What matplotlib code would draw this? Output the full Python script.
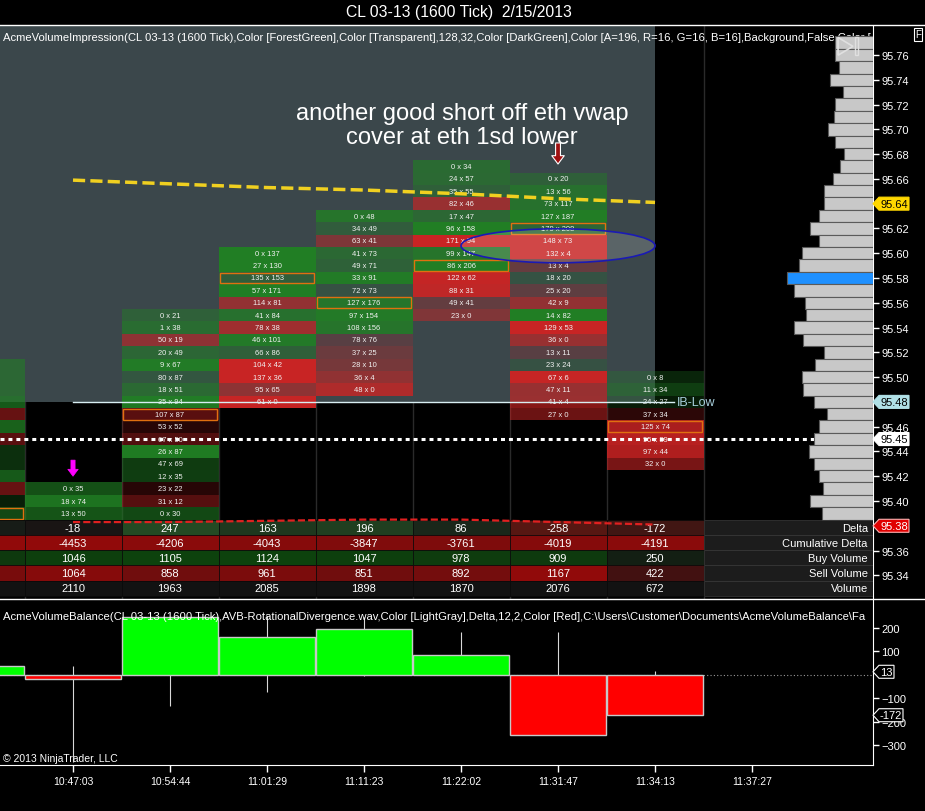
import matplotlib
matplotlib.use("Agg")
import matplotlib.pyplot as plt
import numpy as np
from matplotlib import transforms
from matplotlib.lines import Line2D
from matplotlib.patches import Ellipse, Polygon, Rectangle

plt.rcParams['font.family'] = ['Liberation Sans', 'DejaVu Sans']

TITLE = "CL 03-13 (1600 Tick)  2/15/2013"
MAIN_LABEL = ("AcmeVolumeImpression(CL 03-13 (1600 Tick),Color [ForestGreen],Color [Transparent],128,32,"
              "Color [DarkGreen],Color [A=196, R=16, G=16, B=16],Background,False,Color [")
LOWER_LABEL = ("AcmeVolumeBalance(CL 03-13 (1600 Tick),AVB-RotationalDivergence.wav,Color [LightGray],"
               "Delta,12,2,Color [Red],C:\\Users\\Customer\\Documents\\AcmeVolumeBalance\\Fa")
NOTE = "another good short off eth vwap\ncover at eth 1sd lower"
COPYRIGHT = "\u00a9 2013 NinjaTrader, LLC"

times = ["10:47:03", "10:54:44", "11:01:29", "11:11:23", "11:22:02", "11:31:47", "11:34:13", "11:37:27"]

# footprint cells: top price of each bar, then bid / ask going down one tick per row
fp_top = [95.51, 95.41, 95.55, 95.60, 95.63, 95.67, 95.66, 95.50]
fp_bid = [None,
          [0, 18, 13],
          [0, 1, 50, 20, 9, 80, 18, 35, 107, 53, 67, 26, 47, 12, 23, 31, 0],
          [0, 27, 135, 57, 114, 41, 78, 46, 66, 104, 137, 95, 61],
          [0, 34, 63, 41, 49, 33, 72, 127, 97, 108, 78, 37, 28, 36, 48],
          [0, 24, 35, 82, 17, 96, 171, 99, 86, 122, 88, 49, 23],
          [0, 13, 73, 127, 179, 148, 132, 13, 18, 25, 42, 14, 129, 36, 13, 23, 67, 47, 41, 27],
          [0, 11, 24, 37, 125, 95, 97, 32]]
fp_ask = [None,
          [35, 74, 50],
          [21, 38, 19, 49, 67, 87, 51, 94, 87, 52, 50, 87, 69, 35, 22, 12, 30],
          [137, 130, 153, 171, 81, 84, 38, 101, 86, 42, 36, 65, 0],
          [48, 49, 41, 73, 71, 91, 73, 176, 154, 156, 76, 25, 10, 4, 0],
          [34, 57, 55, 46, 47, 158, 94, 147, 206, 62, 31, 41, 0],
          [20, 56, 117, 187, 208, 73, 4, 4, 20, 20, 9, 82, 53, 0, 11, 24, 6, 11, 4, 0],
          [8, 34, 27, 34, 74, 39, 44, 0]]
# first bar is cut by the left edge: only its shading shows
fp0_delta = [30, 30, 30, 40, -25, 45, -20, 15, 15, 40, -25, 5, 30]
poc = [95.39, None, 95.47, 95.58, 95.56, 95.59, 95.62, 95.46]

# summary rows
delta = [37, -18, 247, 163, 196, 86, -258, -172]
cum_delta = [-4435, -4453, -4206, -4043, -3847, -3761, -4019, -4191]
buy_vol = [None, 1046, 1105, 1124, 1047, 978, 909, 250]
sell_vol = [None, 1064, 858, 961, 851, 892, 1167, 422]
volume = [None, 2110, 1963, 2085, 1898, 1870, 2076, 672]

# lower panel delta range (wicks)
delta_hi = [None, 37, 247, 250, 245, 182, 182, 17]
delta_lo = [None, -372, -131, -72, -4, 0, -258, -172]

# plotted lines, bars 1..7
eth_vwap = [95.659, 95.656, 95.653, 95.651, 95.648, 95.644, 95.641]
eth_1sd_lower = [95.383, 95.383, 95.384, 95.385, 95.385, 95.383, 95.381]
ib_low = 95.48
last_close_line = 95.45

# volume profile from 95.77 down to 95.38
prof_vol = [38, 38, 34, 43, 30, 38, 39, 45, 38, 29,
            33, 40, 49, 49, 54, 63, 54, 71, 74, 86,
            79, 68, 67, 79, 70, 49, 58, 71, 70, 59,
            46, 54, 59, 64, 59, 54, 50, 63, 51, 44]
prof_top = 95.77

TICK = 0.01
X_LO, X_HI = 0.2474, 9.247
Y_LO, Y_HI = 95.3209, 95.7834
D_LO, D_HI = -384, 323
GRAY = '#3b474b'


def cell_color(d):
    a = 0.18 + 0.8 * min(1.0, abs(d) / 62)
    if d >= 0:
        return (0.13, 0.50, 0.14, a)
    return (0.80, 0.14, 0.14, a)


def mix(base, t, bg=(0.08, 0.08, 0.08)):
    return tuple(b + t * (c - b) for b, c in zip(bg, base))


def price_tag(fig, ax, y, text, fc, tc, ec, box_w):
    base = transforms.blended_transform_factory(ax.transAxes, ax.transData)
    shape = [(0, 0), (6, 6.5), (6 + box_w, 6.5), (6 + box_w, -6.5), (6, -6.5)]
    poly = Polygon(shape, closed=True, fc=fc, ec=ec, lw=0.8, zorder=20,
                   transform=transforms.Affine2D() + transforms.ScaledTranslation(1.0, y, base))
    ax.add_artist(poly)
    poly.set_clip_on(False)
    ax.text(1.0, y, text, ha='center', va='center', fontsize=8, color=tc, clip_on=False, zorder=21,
            transform=transforms.offset_copy(base, fig=fig, x=6 + box_w / 2, y=0, units='dots'))


fig = plt.figure(figsize=(9.25, 8.12), dpi=100, facecolor='black')
ax = fig.add_axes([0, 0.26108, 0.94378, 0.70567], facecolor='black')
ax2 = fig.add_axes([0, 0.05665, 0.94378, 0.20443], facecolor='black')

# ---- main footprint panel
for e in np.arange(0.5, 8.5):
    ax.axvline(e, color='#2a2a2a', lw=1, zorder=0.5)
ax.add_patch(Rectangle((X_LO, ib_low), 7.0 - X_LO, Y_HI - ib_low, fc=GRAY, lw=0, zorder=1))

for i in range(len(fp_top)):
    if fp_bid[i] is None:
        deltas = fp0_delta
    else:
        deltas = [a - b for a, b in zip(fp_ask[i], fp_bid[i])]
    for k, d in enumerate(deltas):
        p = round(fp_top[i] - k * TICK, 2)
        ax.add_patch(Rectangle((i - 0.5, p - TICK / 2), 1.0, TICK, fc=cell_color(d), lw=0, zorder=2))
        if fp_bid[i] is not None:
            ax.text(i, p, f"{fp_bid[i][k]} x {fp_ask[i][k]}", ha='center', va='center',
                    fontsize=5.4, color='#f2f2f2', zorder=2.6)
    if poc[i] is not None:
        ax.add_patch(Rectangle((i - 0.48, poc[i] - 0.0044), 0.96, 0.0088, fill=False,
                               ec='#e07010', lw=1, zorder=2.5))

ax.text(0.003, 0.9808, MAIN_LABEL, transform=ax.transAxes, ha='left', va='center',
        fontsize=8.1, color='white', zorder=2.8, clip_on=True)

bars = np.arange(1, 8)
ax.plot(bars, eth_vwap, color='#f0d020', lw=2.5, ls=(0, (3.5, 1.5)), zorder=2.9)
ax.plot([X_LO, X_HI], [last_close_line] * 2, color='white', lw=2.2, ls=(0, (1.3, 1.3)), zorder=2.9)
ax.plot([1, 7.2], [ib_low] * 2, color='#d8eef2', lw=1, zorder=2.9)
ax.text(7.23, ib_low, "IB-Low", ha='left', va='center', fontsize=9, color='#a8d0dc', zorder=2.9)

# volume profile on the right
prof = ax.inset_axes([0, 0, 1, 1], zorder=3)
prof.axis('off')
prof.set_xlim(873, 0)
prof.set_ylim(Y_LO, Y_HI)
prof_price = np.round(prof_top - TICK * np.arange(len(prof_vol)), 2)
hi = int(np.argmax(prof_vol))
prof_colors = ['#1e90ff' if k == hi else '#c8c8c8' for k in range(len(prof_vol))]
prof.barh(prof_price, prof_vol, height=TICK, color=prof_colors, edgecolor='#5a5a5a', lw=0.8)

ax.add_patch(Ellipse((6.0, 95.606), 2.0, 0.0275, fc=(1, 1, 1, 0.16), ec='#1a1ab4', lw=1.2, zorder=5))
ax.text(5.01, 95.7035, NOTE, ha='center', va='center', fontsize=17, color='white',
        linespacing=1.12, zorder=6)
ax.annotate('', xy=(6, 95.672), xytext=(6, 95.689),
            arrowprops=dict(arrowstyle='simple,head_width=0.9,head_length=0.6,tail_width=0.35',
                            fc='#a01010', ec='white', lw=0.8, shrinkA=0, shrinkB=0), zorder=6)
ax.annotate('', xy=(1, 95.420), xytext=(1, 95.433),
            arrowprops=dict(arrowstyle='simple,head_width=0.75,head_length=0.5,tail_width=0.3',
                            fc='#ff00ff', ec='#ff00ff', lw=0.5, shrinkA=0, shrinkB=0), zorder=6)

# summary table at the bottom of the price panel
tbl = transforms.blended_transform_factory(ax.transData, ax.transAxes)
TABLE_TOP, ROW_H = 0.1379, 0.02642
rows = [("Delta", delta), ("Cumulative Delta", cum_delta), ("Buy Volume", buy_vol),
        ("Sell Volume", sell_vol), ("Volume", volume)]
for r, (name, vals) in enumerate(rows):
    y0 = TABLE_TOP - (r + 1) * ROW_H
    known = [abs(v) for v in vals if v is not None]
    top = max(known)
    for i, v in enumerate(vals):
        t = 0.8 if v is None else abs(v) / top
        if name == "Delta":
            col = mix((0.14, 0.30, 0.14) if v >= 0 else (0.34, 0.09, 0.07), min(1, t))
        elif name == "Buy Volume":
            col = mix((0.05, 0.26, 0.05), t)
        elif name == "Volume":
            col = (0.07, 0.07, 0.07)
        else:
            col = mix((0.57, 0.04, 0.04), t)
        ax.add_patch(Rectangle((i - 0.5, y0), 1.0, ROW_H, transform=tbl, fc=col,
                               ec='#0a0a0a', lw=0.5, zorder=6.5))
        # the first bar's numbers sit off the left edge
        if v is not None and i > 0:
            ax.text(i, y0 + ROW_H / 2, str(v), transform=tbl, ha='center', va='center',
                    fontsize=8, color='white', zorder=6.6)
    ax.add_patch(Rectangle((7.5, y0), X_HI - 7.5, ROW_H, transform=tbl, fc='#1c1c1c',
                           ec='#3a3a3a', lw=0.5, zorder=6.5))
    ax.text(0.994, y0 + ROW_H / 2, name, transform=ax.transAxes, ha='right', va='center',
            fontsize=8, color='white', zorder=6.6)

ax.plot(bars, eth_1sd_lower, color='#e02020', lw=1.6, ls=(0, (3.2, 1.4)), zorder=7)

# play icon
ax.add_patch(Polygon([(0.960, 0.980), (0.960, 0.949), (0.977, 0.9645)], closed=True, fill=False,
                     ec='#e0e0e0', lw=1.2, transform=ax.transAxes, zorder=8))
ax.add_patch(Rectangle((0.979, 0.949), 0.004, 0.031, fill=False, ec='#e0e0e0', lw=1.0,
                       transform=ax.transAxes, zorder=8))

ax.set_xlim(X_LO, X_HI)
ax.set_ylim(Y_LO, Y_HI)
ax.set_xticks([])
tag_prices = [95.64, 95.48, 95.45, 95.38]
yt = [p for p in np.round(np.arange(95.34, 95.77, 0.02), 2) if p not in tag_prices]
ax.set_yticks(yt)
ax.set_yticklabels([f"{p:.2f}" for p in yt])
ax.yaxis.tick_right()
ax.tick_params(axis='y', colors='white', labelsize=8, length=4, width=1, pad=2)
for s in ['top', 'left', 'bottom']:
    ax.spines[s].set_visible(False)
ax.spines['right'].set_color('white')

price_tag(fig, ax, 95.64, "95.64", '#ffd700', 'black', '#ffd700', 30)
price_tag(fig, ax, 95.48, "95.48", '#b0e0e6', 'black', '#b0e0e6', 30)
price_tag(fig, ax, 95.45, "95.45", 'white', 'black', 'white', 30)
price_tag(fig, ax, 95.38, "95.38", '#e00000', 'white', '#ffb0b0', 30)

# ---- lower delta panel
idx = np.arange(len(delta))
for i in range(1, len(delta)):
    ax2.vlines(i, delta_lo[i], delta_hi[i], color='#d8d8d8', lw=0.8, zorder=2)
ax2.axhline(0, color='#9a9a9a', ls=(0, (1, 2)), lw=0.8, zorder=1)
ax2.bar(idx, delta, width=0.98, color=['#00ff00' if d >= 0 else '#ff0000' for d in delta],
        edgecolor='#c8c8c8', lw=1, zorder=3)
ax2.text(0.004, 0.8976, LOWER_LABEL, transform=ax2.transAxes, ha='left', va='center',
         fontsize=8.1, color='white', zorder=5, clip_on=True)
ax2.text(0.004, 0.012, COPYRIGHT, transform=ax2.transAxes, ha='left', va='bottom',
         fontsize=7.5, color='white', zorder=5)
ax2.set_xlim(X_LO, X_HI)
ax2.set_ylim(D_LO, D_HI)
ax2.set_xticks(range(1, 9))
ax2.set_xticklabels(times)
ax2.set_yticks([-300, -200, -100, 100, 200])
ax2.yaxis.tick_right()
ax2.tick_params(axis='y', colors='white', labelsize=8, length=4, width=1, pad=2)
ax2.tick_params(axis='x', colors='white', labelsize=7.5, length=5, width=1, pad=3)
for s in ['top', 'left']:
    ax2.spines[s].set_visible(False)
ax2.spines['right'].set_color('white')
ax2.spines['bottom'].set_color('white')
price_tag(fig, ax2, 13, "13", 'black', 'white', 'white', 15)
price_tag(fig, ax2, delta[-1], str(delta[-1]), 'black', 'white', 'white', 24)

# ---- frame, title
fig.add_artist(Line2D([0, 1], [0.968, 0.968], color='white', lw=1, transform=fig.transFigure))
fig.add_artist(Line2D([0, 1], [0.2611, 0.2611], color='white', lw=1, transform=fig.transFigure))
fig.text(0.496, 1 - 13 / 812, TITLE, ha='center', va='center', fontsize=11.3, color='white')
fig.text(0.9924, 0.9563, "F", ha='center', va='center', fontsize=7, color='white',
         bbox=dict(boxstyle='square,pad=0.15', fc='black', ec='white', lw=0.8))

fig.savefig("out.png", dpi=100, facecolor='black')
